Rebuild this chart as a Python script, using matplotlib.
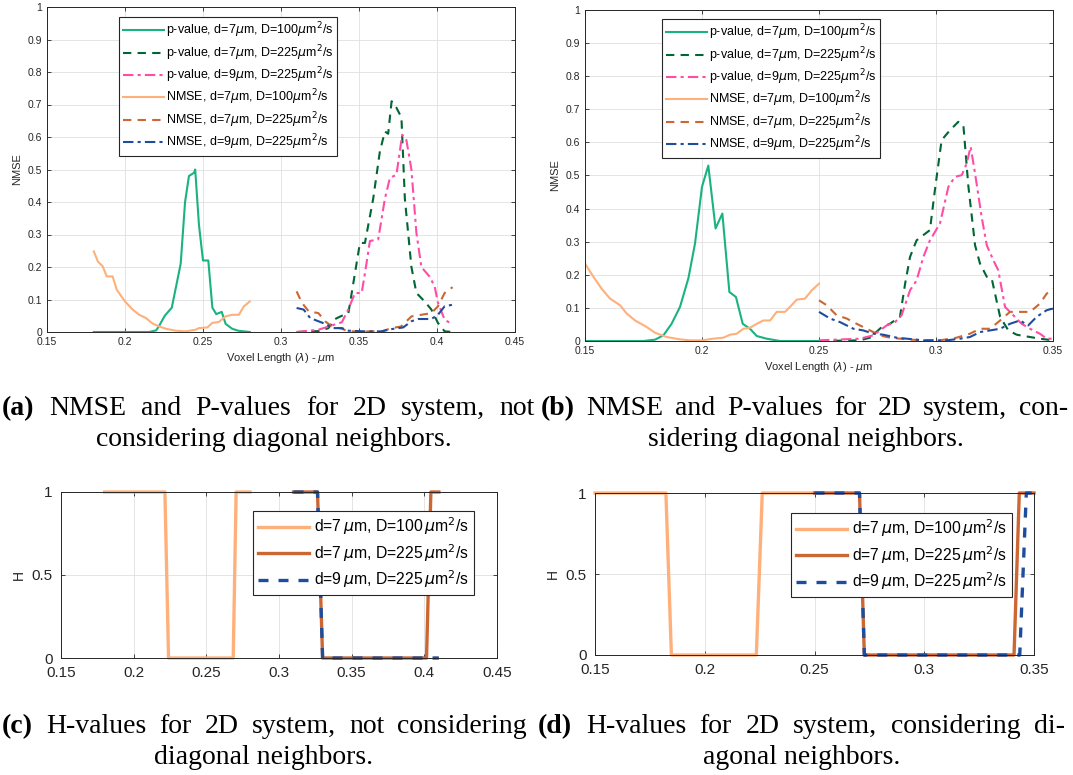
import matplotlib
matplotlib.use("Agg")
import matplotlib.pyplot as plt
from matplotlib.ticker import FormatStrFormatter

plt.rcParams['font.family'] = ['Liberation Sans', 'DejaVu Sans']
plt.rcParams['mathtext.fontset'] = 'dejavusans'

W, H = 1073, 775

# ---- panel (a): not considering diagonal neighbors ----
a_p7_100_x = [0.18, 0.2155, 0.22, 0.222, 0.2255, 0.23, 0.2357, 0.2385, 0.241, 0.2443, 0.245,
              0.2474, 0.25, 0.2534, 0.256, 0.2585, 0.262, 0.2645, 0.2687, 0.2725, 0.28]
a_p7_100_y = [0, 0, 0.005, 0.02, 0.05, 0.075, 0.21, 0.40, 0.48, 0.49, 0.50,
              0.33, 0.22, 0.22, 0.075, 0.055, 0.062, 0.025, 0.01, 0.004, 0]
a_p7_225_x = [0.31, 0.325, 0.3304, 0.3347, 0.339, 0.3432, 0.3506, 0.3538, 0.3591, 0.3634, 0.3666, 0.3687,
              0.3709, 0.374, 0.3772, 0.3794, 0.3836, 0.3868, 0.3921, 0.3964, 0.4006, 0.4049, 0.41]
a_p7_225_y = [0, 0.003, 0.012, 0.04, 0.05, 0.058, 0.274, 0.274, 0.41, 0.556, 0.617, 0.61,
              0.71, 0.69, 0.66, 0.41, 0.2, 0.12, 0.094, 0.069, 0.028, 0.002, 0]
a_p9_225_x = [0.31, 0.324, 0.3326, 0.339, 0.3432, 0.3474, 0.3517, 0.3538, 0.357, 0.3623, 0.3666, 0.3698,
              0.374, 0.3777, 0.3804, 0.3836, 0.3868, 0.39, 0.3953, 0.3985, 0.4006, 0.4049, 0.41]
a_p9_225_y = [0, 0.007, 0.02, 0.03, 0.07, 0.12, 0.12, 0.18, 0.28, 0.285, 0.41, 0.474,
              0.484, 0.607, 0.59, 0.5, 0.305, 0.2, 0.17, 0.14, 0.09, 0.038, 0.023]
a_n7_100_x = [0.18, 0.1826, 0.1857, 0.1883, 0.1921, 0.1947, 0.2, 0.2049, 0.2091, 0.2134, 0.2177, 0.2219, 0.2262,
              0.2326, 0.2389, 0.2453, 0.2474, 0.2528, 0.256, 0.2602, 0.2645, 0.2687, 0.273, 0.2762, 0.28]
a_n7_100_y = [0.248, 0.217, 0.202, 0.171, 0.171, 0.13, 0.094, 0.069, 0.053, 0.043, 0.026, 0.017, 0.01,
              0.004, 0.002, 0.007, 0.012, 0.014, 0.028, 0.031, 0.048, 0.053, 0.053, 0.079, 0.094]
a_n7_225_x = [0.31, 0.3134, 0.3177, 0.324, 0.3283, 0.3326, 0.339, 0.3432, 0.3538, 0.3645, 0.371, 0.377,
              0.3836, 0.39, 0.3964, 0.4006, 0.4049, 0.41]
a_n7_225_y = [0.125, 0.09, 0.064, 0.058, 0.033, 0.017, 0.01, 0.002, 0.002, 0.002, 0.012, 0.017,
              0.048, 0.053, 0.058, 0.079, 0.12, 0.138]
a_n9_225_x = [0.31, 0.3145, 0.3187, 0.324, 0.3294, 0.3326, 0.339, 0.3432, 0.3538, 0.3645, 0.371, 0.3783,
              0.3836, 0.3879, 0.3964, 0.4006, 0.4049, 0.41]
a_n9_225_y = [0.074, 0.069, 0.043, 0.033, 0.023, 0.012, 0.012, 0.004, 0.002, 0.002, 0.009, 0.014,
              0.033, 0.04, 0.04, 0.053, 0.079, 0.084]

# ---- panel (b): considering diagonal neighbors ----
b_p7_100_x = [0.15, 0.175, 0.1799, 0.1835, 0.187, 0.1906, 0.1942, 0.197, 0.2, 0.2027, 0.2058, 0.2087, 0.2117,
              0.2145, 0.2174, 0.2205, 0.2234, 0.2276, 0.2333, 0.25]
b_p7_100_y = [0, 0, 0.004, 0.017, 0.052, 0.103, 0.19, 0.294, 0.466, 0.53, 0.34, 0.385, 0.148,
              0.133, 0.052, 0.037, 0.015, 0.007, 0, 0]
b_p7_225_x = [0.25, 0.2675, 0.2718, 0.2768, 0.2803, 0.2846, 0.2868, 0.2889, 0.2917, 0.2946, 0.2974, 0.2996,
              0.3024, 0.306, 0.3095, 0.3117, 0.3138, 0.3167, 0.3188, 0.3217, 0.3238, 0.3274, 0.3309,
              0.3345, 0.3402, 0.3444, 0.35]
b_p7_225_y = [0, 0.002, 0.01, 0.042, 0.052, 0.073, 0.173, 0.254, 0.304, 0.32, 0.335, 0.46,
              0.607, 0.637, 0.662, 0.652, 0.47, 0.289, 0.234, 0.194, 0.189, 0.073, 0.032,
              0.019, 0.012, 0.007, 0.002]
b_p9_225_x = [0.25, 0.2675, 0.2732, 0.2789, 0.2825, 0.2853, 0.2889, 0.2917, 0.2946, 0.2974, 0.3017, 0.3053,
              0.3081, 0.311, 0.3131, 0.3148, 0.3167, 0.3195, 0.3217, 0.3245, 0.3266, 0.3295, 0.333,
              0.3366, 0.3402, 0.3444, 0.3473, 0.35]
b_p9_225_y = [0.002, 0.007, 0.017, 0.047, 0.057, 0.078, 0.153, 0.183, 0.254, 0.304, 0.355, 0.466,
              0.496, 0.501, 0.536, 0.587, 0.506, 0.375, 0.289, 0.244, 0.214, 0.103, 0.078,
              0.052, 0.037, 0.022, 0.007, 0.007]
b_n7_100_x = [0.15, 0.1536, 0.1571, 0.1607, 0.165, 0.1678, 0.1714, 0.1764, 0.1799, 0.1849, 0.1906, 0.1949,
              0.2, 0.2048, 0.2091, 0.212, 0.2148, 0.2177, 0.2205, 0.2234, 0.2262, 0.2291, 0.2319,
              0.2355, 0.2376, 0.2405, 0.244, 0.2469, 0.25]
b_n7_100_y = [0.234, 0.194, 0.158, 0.128, 0.108, 0.083, 0.062, 0.042, 0.025, 0.012, 0.005, 0.002,
              0.002, 0.007, 0.01, 0.019, 0.022, 0.037, 0.04, 0.052, 0.062, 0.062, 0.088,
              0.088, 0.103, 0.125, 0.128, 0.153, 0.173]
b_n7_225_x = [0.25, 0.2533, 0.2575, 0.2618, 0.2661, 0.2718, 0.276, 0.2803, 0.2875, 0.2946, 0.3017, 0.3088,
              0.3145, 0.3188, 0.3231, 0.3274, 0.3316, 0.3359, 0.3402, 0.3444, 0.3473, 0.35]
b_n7_225_y = [0.123, 0.108, 0.078, 0.068, 0.052, 0.032, 0.017, 0.01, 0.005, 0.002, 0.002, 0.01,
              0.022, 0.037, 0.037, 0.062, 0.088, 0.088, 0.088, 0.113, 0.143, 0.158]
b_n9_225_x = [0.25, 0.2547, 0.259, 0.2647, 0.2689, 0.2732, 0.2775, 0.2832, 0.2875, 0.2946, 0.3046, 0.3103,
              0.3145, 0.3188, 0.3231, 0.3274, 0.3316, 0.3359, 0.3394, 0.343, 0.3473, 0.35]
b_n9_225_y = [0.088, 0.068, 0.057, 0.037, 0.032, 0.022, 0.019, 0.01, 0.007, 0.002, 0.002, 0.007,
              0.012, 0.027, 0.032, 0.037, 0.052, 0.062, 0.047, 0.073, 0.093, 0.098]

# ---- panel (c), (d): H values ----
c_h7_100_x = [0.18, 0.2215, 0.224, 0.2685, 0.2705, 0.28]
c_h7_100_y = [1, 1, 0, 0, 1, 1]
c_h7_225_x = [0.31, 0.3265, 0.33, 0.4015, 0.4045, 0.41]
c_h7_225_y = [1, 1, 0, 0, 1, 1]
c_h9_225_x = [0.31, 0.3265, 0.33, 0.41]
c_h9_225_y = [1, 1, 0, 0]

d_h7_100_x = [0.15, 0.1823, 0.1848, 0.2235, 0.2262, 0.25]
d_h7_100_y = [1, 1, 0, 0, 1, 1]
d_h7_225_x = [0.25, 0.2705, 0.2727, 0.3409, 0.3433, 0.35]
d_h7_225_y = [1, 1, 0, 0, 1, 1]
d_h9_225_x = [0.25, 0.2705, 0.2727, 0.3435, 0.3465, 0.35]
d_h9_225_y = [1, 1, 0, 0, 1, 1]

c_green = '#1ab380'
c_dkgreen = '#006633'
c_pink = '#ff4da6'
c_ltorange = '#ffb07a'
c_orange = '#cc6633'
c_blue = '#1f4d9e'
dash = (0, (4, 3))
dashdot = (0, (5, 2, 1.5, 2))
gray = '#262626'

um = r'$\mu$m'
um2 = r'$\mu$m$^2$/s'
labels_pn = [
    f'p-value, d=7{um}, D=100{um2}',
    f'p-value, d=7{um}, D=225{um2}',
    f'p-value, d=9{um}, D=225{um2}',
    f'NMSE, d=7{um}, D=100{um2}',
    f'NMSE, d=7{um}, D=225{um2}',
    f'NMSE, d=9{um}, D=225{um2}',
]
labels_h = [
    r'd=7$\,\mu$m, D=100$\,\mu$m$^2$/s',
    r'd=7$\,\mu$m, D=225$\,\mu$m$^2$/s',
    r'd=9$\,\mu$m, D=225$\,\mu$m$^2$/s',
]


def px_rect(x0, y0, x1, y1):
    return [x0 / W, 1 - y1 / H, (x1 - x0) / W, (y1 - y0) / H]


def matlab_axes(ax, xlim, ylim, xticks, yticks, fs, pad):
    ax.set_xlim(*xlim)
    ax.set_ylim(*ylim)
    ax.set_xticks(xticks)
    ax.set_yticks(yticks)
    ax.xaxis.set_major_formatter(FormatStrFormatter('%g'))
    ax.yaxis.set_major_formatter(FormatStrFormatter('%g'))
    ax.tick_params(direction='in', top=True, right=True, labelsize=fs, colors=gray,
                   length=3, width=0.6, pad=pad)
    ax.grid(True, color='#dfdfdf', linewidth=0.6)
    ax.set_axisbelow(True)
    for s in ax.spines.values():
        s.set_color(gray)
        s.set_linewidth(0.7)


def nmse_panel(ax, data, xlim, xticks, legend_anchor):
    styles = [(c_green, '-'), (c_dkgreen, dash), (c_pink, dashdot),
              (c_ltorange, '-'), (c_orange, dash), (c_blue, dashdot)]
    for (x, y), (col, ls), lab in zip(data, styles, labels_pn):
        ax.plot(x, y, color=col, linestyle=ls, linewidth=1.5, label=lab)
    matlab_axes(ax, xlim, (0, 1), xticks, [i / 10 for i in range(11)], 7.5, 3.5)
    ax.set_ylabel('NMSE', fontsize=8, color=gray, labelpad=4)
    ax.set_xlabel(r'Voxel Length ($\lambda$) - $\mu$m', fontsize=8, color=gray, labelpad=3)
    leg = ax.legend(loc='upper left', bbox_to_anchor=legend_anchor, fontsize=9,
                    fancybox=False, framealpha=1, edgecolor=gray, handlelength=3.3,
                    handletextpad=0.15, labelspacing=0.22, borderpad=0.3, borderaxespad=0)
    leg.get_frame().set_linewidth(0.8)


def h_panel(ax, data, xlim, xticks, legend_anchor):
    styles = [(c_ltorange, '-'), (c_orange, '-'), (c_blue, (0, (3, 3)))]
    for (x, y), (col, ls), lab in zip(data, styles, labels_h):
        ax.plot(x, y, color=col, linestyle=ls, linewidth=2.4, label=lab, clip_on=False)
    matlab_axes(ax, xlim, (0, 1), xticks, [0, 0.5, 1], 11, 6)
    ax.set_ylabel('H', fontsize=10, color=gray, labelpad=4)
    leg = ax.legend(loc='upper left', bbox_to_anchor=legend_anchor, fontsize=11.3,
                    fancybox=False, framealpha=1, edgecolor=gray, handlelength=3.3,
                    handletextpad=0.3, labelspacing=0.3, borderpad=0.3, borderaxespad=0)
    leg.get_frame().set_linewidth(0.8)


def justified_line(fig, rend, words, x0_px, x1_px, y_px, fs):
    # first word is the bold tag, the rest are spread to fill x0..x1
    texts = []
    for i, w in enumerate(words):
        t = fig.text(0, 1 - y_px / H, w, fontsize=fs, family='Liberation Serif',
                     fontweight='bold' if i == 0 else 'normal', va='baseline', ha='left')
        texts.append(t)
    widths = [t.get_window_extent(rend).width for t in texts]
    gap = (x1_px - x0_px - sum(widths)) / (len(words) - 1)
    x = x0_px
    for t, w in zip(texts, widths):
        t.set_x(x / W)
        x += w + gap


def caption(fig, x0_px, x1_px, y_px, tag, line1, line2, center_px, fs=20):
    rend = fig.canvas.get_renderer()
    justified_line(fig, rend, [tag] + line1.split(' '), x0_px, x1_px, y_px, fs)
    fig.text(center_px / W, 1 - (y_px + 31) / H, line2, fontsize=fs,
             family='Liberation Serif', va='baseline', ha='center')


fig = plt.figure(figsize=(W / 100, H / 100), dpi=100)

ax_a = fig.add_axes(px_rect(47, 7, 515, 332))
nmse_panel(ax_a,
           [(a_p7_100_x, a_p7_100_y), (a_p7_225_x, a_p7_225_y), (a_p9_225_x, a_p9_225_y),
            (a_n7_100_x, a_n7_100_y), (a_n7_225_x, a_n7_225_y), (a_n9_225_x, a_n9_225_y)],
           (0.15, 0.45), [0.15, 0.2, 0.25, 0.3, 0.35, 0.4, 0.45], (0.154, 0.969))

ax_b = fig.add_axes(px_rect(585, 10, 1053, 341))
nmse_panel(ax_b,
           [(b_p7_100_x, b_p7_100_y), (b_p7_225_x, b_p7_225_y), (b_p9_225_x, b_p9_225_y),
            (b_n7_100_x, b_n7_100_y), (b_n7_225_x, b_n7_225_y), (b_n9_225_x, b_n9_225_y)],
           (0.15, 0.35), [0.15, 0.2, 0.25, 0.3, 0.35], (0.165, 0.973))

ax_c = fig.add_axes(px_rect(61, 492, 497, 658))
h_panel(ax_c, [(c_h7_100_x, c_h7_100_y), (c_h7_225_x, c_h7_225_y), (c_h9_225_x, c_h9_225_y)],
        (0.15, 0.45), [0.15, 0.2, 0.25, 0.3, 0.35, 0.4, 0.45], (0.44, 0.886))

ax_d = fig.add_axes(px_rect(595, 493, 1034, 655))
h_panel(ax_d, [(d_h7_100_x, d_h7_100_y), (d_h7_225_x, d_h7_225_y), (d_h9_225_x, d_h9_225_y)],
        (0.15, 0.35), [0.15, 0.2, 0.25, 0.3, 0.35], (0.446, 0.877))

fig.canvas.draw()
caption(fig, 2, 535, 415, '(a)', 'NMSE and P-values for 2D system, not',
        'considering diagonal neighbors.', 274)
caption(fig, 541, 1068, 415, '(b)', 'NMSE and P-values for 2D system, con-',
        'sidering diagonal neighbors.', 806)
caption(fig, 2, 527, 733, '(c)', 'H-values for 2D system, not considering',
        'diagonal neighbors.', 264)
caption(fig, 538, 1065, 733, '(d)', 'H-values for 2D system, considering di-',
        'agonal neighbors.', 802)

fig.savefig('out.png', dpi=100)
